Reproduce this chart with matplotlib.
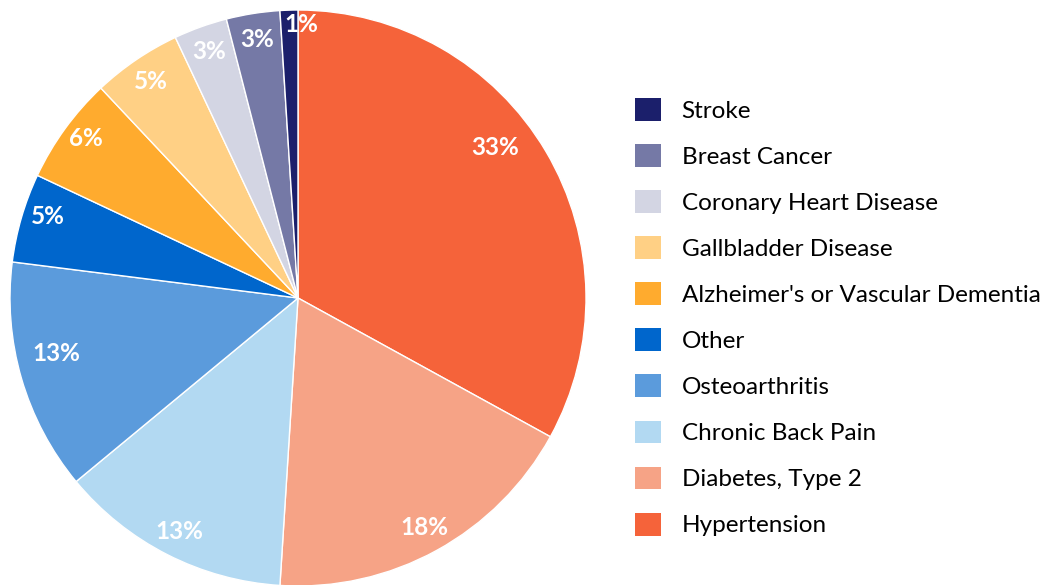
import matplotlib
matplotlib.use("Agg")
import matplotlib.pyplot as plt
from matplotlib.patches import Patch

plt.rcParams['font.family'] = ['Lato', 'DejaVu Sans']

# slices, clockwise from the top
causes = ["Hypertension", "Diabetes, Type 2", "Chronic Back Pain", "Osteoarthritis",
          "Other", "Alzheimer's or Vascular Dementia", "Gallbladder Disease",
          "Coronary Heart Disease", "Breast Cancer", "Stroke"]
shares = [33, 18, 13, 13, 5, 6, 5, 3, 3, 1]
colors = ["#f5633a", "#f6a386", "#b2d9f2", "#5b9bdc", "#0066cc",
          "#ffab2e", "#ffd085", "#d3d5e3", "#7579a6", "#1b1f6b"]

# small label shifts (axes units) where the original labels sit off-centre
nudges = {"Hypertension": (-0.10, 0.06), "Osteoarthritis": (0.035, 0.06),
          "Other": (0.005, 0.03), "Alzheimer's or Vascular Dementia": (0.0, 0.02),
          "Stroke": (0.04, 0.04)}

W, H = 1042, 585
fig = plt.figure(figsize=(W / 100, H / 100), dpi=100)
# pie centered at (298, 298) px with radius 288
cx, cy, r = 298, H - 298, 288
ax = fig.add_axes([(cx - r) / W, (cy - r) / H, 2 * r / W, 2 * r / H])

wedges, texts, autotexts = ax.pie(
    shares, colors=colors, startangle=90, counterclock=False,
    autopct='%d%%', pctdistance=0.91, radius=1,
    wedgeprops=dict(edgecolor='white', linewidth=1),
    textprops=dict(color='white', fontsize=17.5, fontweight='bold'))
for name, t in zip(causes, autotexts):
    if name in nudges:
        x0, y0 = t.get_position()
        dx, dy = nudges[name]
        t.set_position((x0 + dx, y0 + dy))
ax.set_xlim(-1, 1)
ax.set_ylim(-1, 1)
ax.set_aspect('equal')

handles = [Patch(facecolor=c, edgecolor='none') for c in colors][::-1]
fig.legend(handles, causes[::-1], loc='upper left',
           bbox_to_anchor=(635 / W, 1 - 98 / H), frameon=False,
           fontsize=17.5, handlelength=1.07, handleheight=1.07,
           handletextpad=0.85, labelspacing=0.92, borderaxespad=0, borderpad=0)

fig.savefig("out.png", dpi=100)
